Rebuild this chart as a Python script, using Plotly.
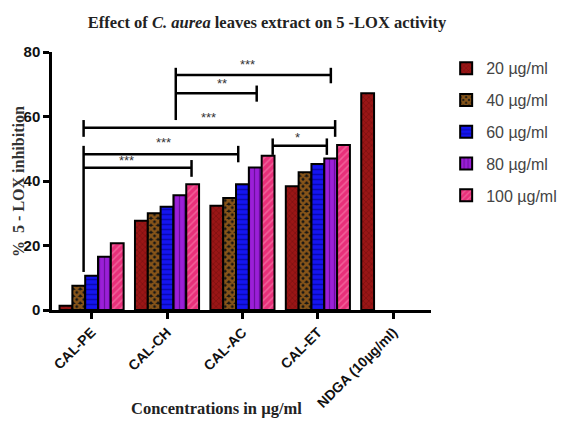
import plotly.graph_objects as go

categories = ["CAL-PE", "CAL-CH", "CAL-AC", "CAL-ET", "NDGA (10µg/ml)"]
series_names = ["20 µg/ml", "40 µg/ml", "60 µg/ml", "80 µg/ml", "100 µg/ml"]
values_20 = [1.3, 27.7, 32.3, 38.4, 67.2]
values_40 = [7.5, 30.0, 34.7, 42.7, None]
values_60 = [10.6, 32.0, 39.0, 45.3, None]
values_80 = [16.5, 35.6, 44.2, 47.0, None]
values_100 = [20.7, 39.0, 47.8, 51.2, None]
y_ticks = [0, 20, 40, 60, 80]

# significance brackets: (x0, y0, x1, y1) in category-index / data units
bracket_segments = [
    (1.116, 58.9, 1.116, 75.1), (1.116, 72.9, 3.172, 72.9), (3.172, 70.3, 3.172, 75.1),
    (1.116, 67.2, 2.189, 67.2), (2.189, 64.6, 2.189, 69.6),
    (-0.106, 53.7, -0.106, 58.9), (-0.106, 56.5, 3.229, 56.5), (3.229, 53.7, 3.229, 58.9),
    (-0.106, 11.8, -0.106, 50.9), (-0.106, 48.3, 1.944, 48.3), (1.944, 45.8, 1.944, 50.9),
    (-0.106, 44.1, 1.325, 44.1), (1.325, 41.3, 1.325, 46.5),
    (2.401, 48.1, 2.401, 53.2), (2.401, 50.9, 3.119, 50.9), (3.119, 48.1, 3.119, 53.2),
]
star_labels = [
    (2.073, 76.2, "***"), (1.724, 70.3, "**"), (1.555, 59.6, "***"),
    (0.948, 52.0, "***"), (0.469, 46.4, "***"), (2.728, 53.4, "*"),
]

all_values = [values_20, values_40, values_60, values_80, values_100]
patterns = [
    dict(shape="x", bgcolor="#9A1616", fgcolor="#560808", size=4, solidity=0.3),
    dict(shape="x", bgcolor="#151515", fgcolor="#F7941D", size=5, solidity=0.75),
    dict(shape="-", bgcolor="#1515F0", fgcolor="#000070", size=5, solidity=0.3),
    dict(shape="|", bgcolor="#9B1FD8", fgcolor="#3A0060", size=5, solidity=0.25),
    dict(shape="/", bgcolor="#E8307A", fgcolor="#F990B8", size=5, solidity=0.3),
]

fig = go.Figure()
for name, vals, pat in zip(series_names, all_values, patterns):
    fig.add_trace(go.Bar(
        x=categories, y=vals, name=name, legendgroup=name,
        marker=dict(color=pat["bgcolor"], pattern=pat,
                    line=dict(color="black", width=2)),
    ))

for (x0, y0, x1, y1) in bracket_segments:
    fig.add_shape(type="line", xref="x", yref="y", x0=x0, y0=y0, x1=x1, y1=y1,
                  line=dict(color="black", width=2.5))

for (x, y, t) in star_labels:
    fig.add_annotation(x=x, y=y, xref="x", yref="y", text=t, showarrow=False,
                       font=dict(family="Arial", size=13, color="#333333"))

fig.add_annotation(text="<b>Concentrations in µg/ml</b>", xref="paper", yref="paper",
                   x=0.433, y=-0.38, showarrow=False, xanchor="center", yanchor="middle",
                   font=dict(family="Liberation Serif", size=16.5, color="#222222"))
fig.add_annotation(text="<b>%  5 - LOX inhibition</b>", xref="paper", yref="paper",
                   x=-0.09, y=0.5, showarrow=False, textangle=-90, xanchor="center",
                   yanchor="middle",
                   font=dict(family="Liberation Serif", size=16, color="#333333"))

# the page body adds an 8px offset, so the figure is drawn 8px smaller
fig.update_layout(
    width=561, height=413,
    margin=dict(l=44, r=138, t=44, b=111, autoexpand=False),
    paper_bgcolor="white", plot_bgcolor="white",
    barmode="group", bargap=0.15, bargroupgap=0,
    title=dict(text="<b>Effect of <i>C. aurea</i> leaves extract on 5 -LOX activity</b>",
               x=259 / 561, xanchor="center", y=1 - 14 / 413, yanchor="middle",
               xref="container", yref="container",
               font=dict(family="Liberation Serif", size=16.5, color="#222222")),
    legend=dict(x=1.04, y=1.003, xanchor="left", yanchor="top", tracegroupgap=8,
                font=dict(family="Arial", size=16, color="#444444"),
                bgcolor="rgba(0,0,0,0)"),
    showlegend=True,
)
fig.update_xaxes(type="category", categoryarray=categories, range=[-0.525, 4.5],
                 automargin=False,
                 showline=True, linecolor="black", linewidth=2.5, showgrid=False,
                 ticks="outside", ticklen=6, tickwidth=2.5, tickcolor="black",
                 tickangle=-45,
                 tickfont=dict(family="Arial", size=14, color="#111111", weight="bold"))
fig.update_yaxes(range=[0, 80], tickvals=y_ticks, automargin=False,
                 showline=True, linecolor="black",
                 linewidth=2.5, showgrid=False, zeroline=False,
                 ticks="outside", ticklen=6, tickwidth=2.5, tickcolor="black",
                 tickfont=dict(family="Arial", size=15, color="#111111", weight="bold"))

fig.write_html("out.html")
